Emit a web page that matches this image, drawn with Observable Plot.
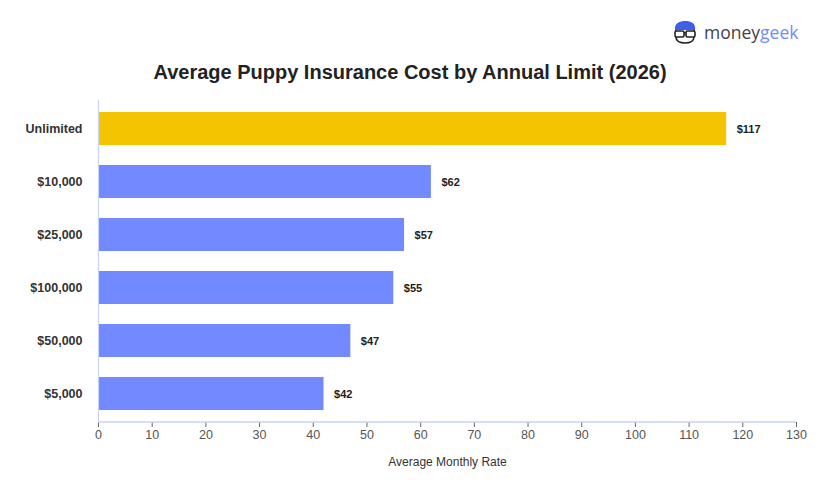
<!DOCTYPE html>
<html>
<head>
<meta charset="utf-8">
<script src="https://cdn.jsdelivr.net/npm/d3@7"></script>
<script src="https://cdn.jsdelivr.net/npm/@observablehq/plot@0.6"></script>
<style>
  body { margin: 0; background: #fff; font-family: "Liberation Sans", Arial, Helvetica, sans-serif; }
  #wrap { position: relative; width: 820px; height: 500px; }
  #header { position: relative; height: 95px; }
  #title { position: absolute; left: 0; width: 820px; top: 61px; text-align: center; font-size: 20px; font-weight: bold; color: #222; }
  #logo { position: absolute; left: 672px; top: 20px; display: flex; align-items: center; }
  #logo .txt { font-family: "Open Sans", "DejaVu Sans", sans-serif; font-size: 17.5px; margin-left: 6px; font-weight: 400; }
</style>
</head>
<body>
<div id="wrap">
  <div id="header">
    <div id="logo">
      <svg width="26" height="24" viewBox="0 0 26 24">
        <path d="M3 10 C2 3 8 1 13 1 C19 1 24 3 23 10 Z" fill="#3f5fe8"/>
        <path d="M4 10 L4 17 C4 21 8 23 13 23 C18 23 22 21 22 17 L22 10" fill="none" stroke="#222" stroke-width="1.6"/>
        <rect x="3" y="11" width="9" height="6" rx="1.5" fill="#fff" stroke="#222" stroke-width="1.6"/>
        <rect x="14" y="11" width="9" height="6" rx="1.5" fill="#fff" stroke="#222" stroke-width="1.6"/>
        <line x1="12" y1="13" x2="14" y2="13" stroke="#222" stroke-width="1.6"/>
      </svg>
      <span class="txt"><span style="color:#444">money</span><span style="color:#6f8cff">geek</span></span>
    </div>
    <div id="title">Average Puppy Insurance Cost by Annual Limit (2026)</div>
  </div>
  <div id="chart"></div>
</div>
<script>
const categories = ["Unlimited", "$10,000", "$25,000", "$100,000", "$50,000", "$5,000"];
const rates = [117, 62, 57, 55, 47, 42];
const highlight = ["Unlimited"];
const xTicks = [0, 10, 20, 30, 40, 50, 60, 70, 80, 90, 100, 110, 120, 130];

const data = categories.map((c, i) => ({category: c, rate: rates[i]}));

const chart = Plot.plot({
  width: 820,
  height: 405,
  marginTop: 5,
  marginBottom: 78,
  marginLeft: 98,
  marginRight: 24,
  style: {fontFamily: "'Liberation Sans', Arial, Helvetica, sans-serif", background: "#fff"},
  x: {domain: [0, 130], ticks: xTicks, label: null},
  y: {domain: categories, paddingInner: 0.37, paddingOuter: 0.2, label: null},
  marks: [
    Plot.barX(data, {
      y: "category", x: "rate",
      fill: d => highlight.includes(d.category) ? "#f5c400" : "#7289ff"
    }),
    Plot.text(data, {
      y: "category", x: "rate", text: d => "$" + d.rate,
      dx: 10, textAnchor: "start", fontWeight: "bold", fontSize: 11, fill: "#222"
    }),
    Plot.ruleX([0], {stroke: "#c9d1f7", strokeWidth: 1.2}),
    Plot.axisY({tickSize: 0, tickPadding: 16, fontWeight: "bold", fontSize: 12.5, fill: "#333", label: null}),
    Plot.axisX({ticks: xTicks, tickSize: 5, stroke: "#666", fontSize: 12.5, fill: "#555", tickPadding: 3, label: null}),
    Plot.text(["Average Monthly Rate"], {
      frameAnchor: "bottom", dy: 43, fontSize: 12, fill: "#333", text: d => d
    })
  ]
});

document.getElementById("chart").appendChild(chart);

// bottom axis line
const svg = d3.select(chart);
const xs = chart.scale("x");
const yBottom = 405 - 78;
svg.append("line")
  .attr("x1", xs.apply(0)).attr("x2", xs.apply(130))
  .attr("y1", yBottom).attr("y2", yBottom)
  .attr("stroke", "#c9d1f7").attr("stroke-width", 1.5);
</script>
</body>
</html>
